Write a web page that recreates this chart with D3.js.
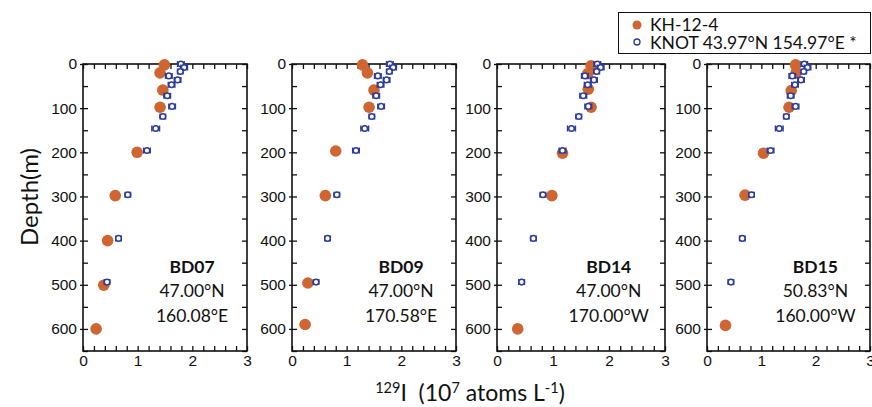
<!DOCTYPE html>
<html>
<head>
<meta charset="utf-8">
<script src="https://cdn.jsdelivr.net/npm/d3@7"></script>
<style>
  html, body { margin: 0; padding: 0; background: #fff; }
  svg { display: block; font-family: Lato, "Open Sans", sans-serif; }
</style>
</head>
<body>
<svg id="chart" width="872" height="407"></svg>
<script>
// KNOT reference profile (43.97°N 154.97°E), shown in every panel
const knotDepth = [0, 8, 17, 27, 36, 47, 72, 96, 119, 146, 196, 296, 395, 494];
const knotValue = [1.79, 1.85, 1.78, 1.57, 1.73, 1.62, 1.54, 1.63, 1.46, 1.33, 1.17, 0.82, 0.65, 0.44];
const knotError = [0.06, 0.06, 0.05, 0.06, 0.06, 0.06, 0.06, 0.06, 0.05, 0.07, 0.06, 0.05, 0.05, 0.05];

// KH-12-4 stations
const stations = ["BD07", "BD09", "BD14", "BD15"];
const latitudes = ["47.00°N", "47.00°N", "47.00°N", "50.83°N"];
const longitudes = ["160.08°E", "170.58°E", "170.00°W", "160.00°W"];

const depthBD07 = [2, 20, 59, 98, 200, 298, 400, 501, 600];
const valueBD07 = [1.49, 1.41, 1.46, 1.41, 0.99, 0.59, 0.45, 0.38, 0.24];
const depthBD09 = [2, 20, 59, 98, 197, 298, 496, 590];
const valueBD09 = [1.29, 1.38, 1.50, 1.41, 0.80, 0.61, 0.29, 0.24];
const depthBD14 = [4, 22, 57, 98, 202, 298, 600];
const valueBD14 = [1.68, 1.62, 1.63, 1.68, 1.17, 0.98, 0.37];
const depthBD15 = [2, 20, 60, 98, 202, 297, 592];
const valueBD15 = [1.63, 1.64, 1.55, 1.51, 1.04, 0.70, 0.34];

const stationDepths = [depthBD07, depthBD09, depthBD14, depthBD15];
const stationValues = [valueBD07, valueBD09, valueBD14, valueBD15];

const xDomain = [0, 3];
const yDomain = [0, 650];
const xTickLabels = [0, 1, 2, 3];
const yTickLabels = [0, 100, 200, 300, 400, 500, 600];

const orange = "#cf6530";
const blue = "#2b3c9e";

const svg = d3.select("#chart");

const panelLeft = [83, 292, 497, 707];
const panelWidth = [164, 164, 168, 163];
const plotTop = 64, plotBottom = 351;

const y = d3.scaleLinear().domain(yDomain).range([plotTop, plotBottom]);

stations.forEach((name, i) => {
  const x0 = panelLeft[i], w = panelWidth[i];
  const x = d3.scaleLinear().domain(xDomain).range([x0, x0 + w]);
  const g = svg.append("g");

  const xMinor = d3.range(0, 3.0001, 0.2);
  const yMinor = d3.range(0, 650.0001, 50);

  // left axis: outward stubs + inward ticks with labels
  g.append("g").attr("transform", `translate(${x0},0)`)
    .call(d3.axisLeft(y).tickValues(yTickLabels).tickSize(3).tickFormat(""))
    .call(a => a.select(".domain").remove());
  g.append("g").attr("transform", `translate(${x0},0)`)
    .call(d3.axisLeft(y).tickValues(yMinor).tickSize(-5).tickPadding(6)
      .tickFormat(d => yTickLabels.includes(d) ? d : ""))
    .call(a => a.select(".domain").remove())
    .call(a => a.selectAll("text").attr("font-size", 15.5).attr("fill", "#111"));
  // right axis
  g.append("g").attr("transform", `translate(${x0 + w},0)`)
    .call(d3.axisRight(y).tickValues(yMinor).tickSize(-5).tickFormat(""))
    .call(a => a.select(".domain").remove());
  // top axis
  g.append("g").attr("transform", `translate(0,${plotTop})`)
    .call(d3.axisTop(x).tickValues(xMinor).tickSize(-5).tickFormat(""))
    .call(a => a.select(".domain").remove());
  // bottom axis
  g.append("g").attr("transform", `translate(0,${plotBottom})`)
    .call(d3.axisBottom(x).tickValues(xMinor).tickSize(-5).tickPadding(4)
      .tickFormat(d => xTickLabels.some(t => Math.abs(t - d) < 1e-6) ? Math.round(d) : ""))
    .call(a => a.select(".domain").remove())
    .call(a => a.selectAll("text").attr("font-size", 15.5).attr("fill", "#111"));

  g.selectAll(".tick line").attr("stroke", "#111").attr("stroke-width", 1.3);

  // frame
  g.append("rect")
    .attr("x", x0).attr("y", plotTop).attr("width", w).attr("height", plotBottom - plotTop)
    .attr("fill", "none").attr("stroke", "#111").attr("stroke-width", 1.6);

  // KH-12-4 samples
  const depths = stationDepths[i], vals = stationValues[i];
  g.selectAll("circle.kh").data(vals).join("circle")
    .attr("class", "kh")
    .attr("cx", d => x(d)).attr("cy", (d, j) => y(depths[j]))
    .attr("r", 5.8).attr("fill", orange);

  // KNOT profile with error bars
  const kg = g.append("g").attr("stroke", blue).attr("stroke-width", 1.5).attr("fill", "none");
  knotValue.forEach((v, j) => {
    const cy = y(knotDepth[j]);
    const xl = x(v - knotError[j]), xr = x(v + knotError[j]);
    kg.append("line").attr("x1", xl).attr("x2", xr).attr("y1", cy).attr("y2", cy);
    kg.append("line").attr("x1", xl).attr("x2", xl).attr("y1", cy - 3).attr("y2", cy + 3);
    kg.append("line").attr("x1", xr).attr("x2", xr).attr("y1", cy - 3).attr("y2", cy + 3);
    kg.append("circle").attr("cx", x(v)).attr("cy", cy).attr("r", 2.8).attr("fill", "#fff");
  });

  // station annotation
  const cx = x0 + w * 0.665;
  g.append("text").attr("x", cx).attr("y", 273).attr("text-anchor", "middle")
    .attr("font-size", 17.5).attr("font-weight", "bold").attr("fill", "#111").text(name);
  g.append("text").attr("x", cx).attr("y", 297).attr("text-anchor", "middle")
    .attr("font-size", 17.5).attr("fill", "#111").text(latitudes[i]);
  g.append("text").attr("x", cx).attr("y", 322).attr("text-anchor", "middle")
    .attr("font-size", 17.5).attr("fill", "#111").text(longitudes[i]);
});

// y-axis title
svg.append("text")
  .attr("transform", "translate(38,197) rotate(-90)")
  .attr("text-anchor", "middle").attr("font-size", 24).attr("fill", "#111")
  .text("Depth(m)");

// x-axis title with superscripts
const xt = svg.append("text").attr("x", 470).attr("y", 401)
  .attr("text-anchor", "middle").attr("font-size", 23).attr("fill", "#111");
xt.append("tspan").attr("font-size", 14.5).attr("dy", -8).text("129");
xt.append("tspan").attr("dy", 8).text("I\u00a0\u00a0(10");
xt.append("tspan").attr("font-size", 14.5).attr("dy", -8).text("7");
xt.append("tspan").attr("dy", 8).text(" atoms L");
xt.append("tspan").attr("font-size", 14.5).attr("dy", -8).text("-1");
xt.append("tspan").attr("dy", 8).text(")");

// legend
const lg = svg.append("g");
lg.append("rect").attr("x", 618.5).attr("y", 12.5).attr("width", 252).attr("height", 41)
  .attr("fill", "#fff").attr("stroke", "#111").attr("stroke-width", 1);
lg.append("circle").attr("cx", 637).attr("cy", 25).attr("r", 4.5).attr("fill", orange);
lg.append("circle").attr("cx", 637).attr("cy", 42).attr("r", 3).attr("fill", "#fff")
  .attr("stroke", blue).attr("stroke-width", 1.3);
lg.append("text").attr("x", 650).attr("y", 31).attr("font-size", 17.5).attr("fill", "#111").text("KH-12-4");
lg.append("text").attr("x", 650).attr("y", 48.5).attr("font-size", 17.5).attr("fill", "#111").text("KNOT 43.97°N 154.97°E *");
</script>
</body>
</html>
